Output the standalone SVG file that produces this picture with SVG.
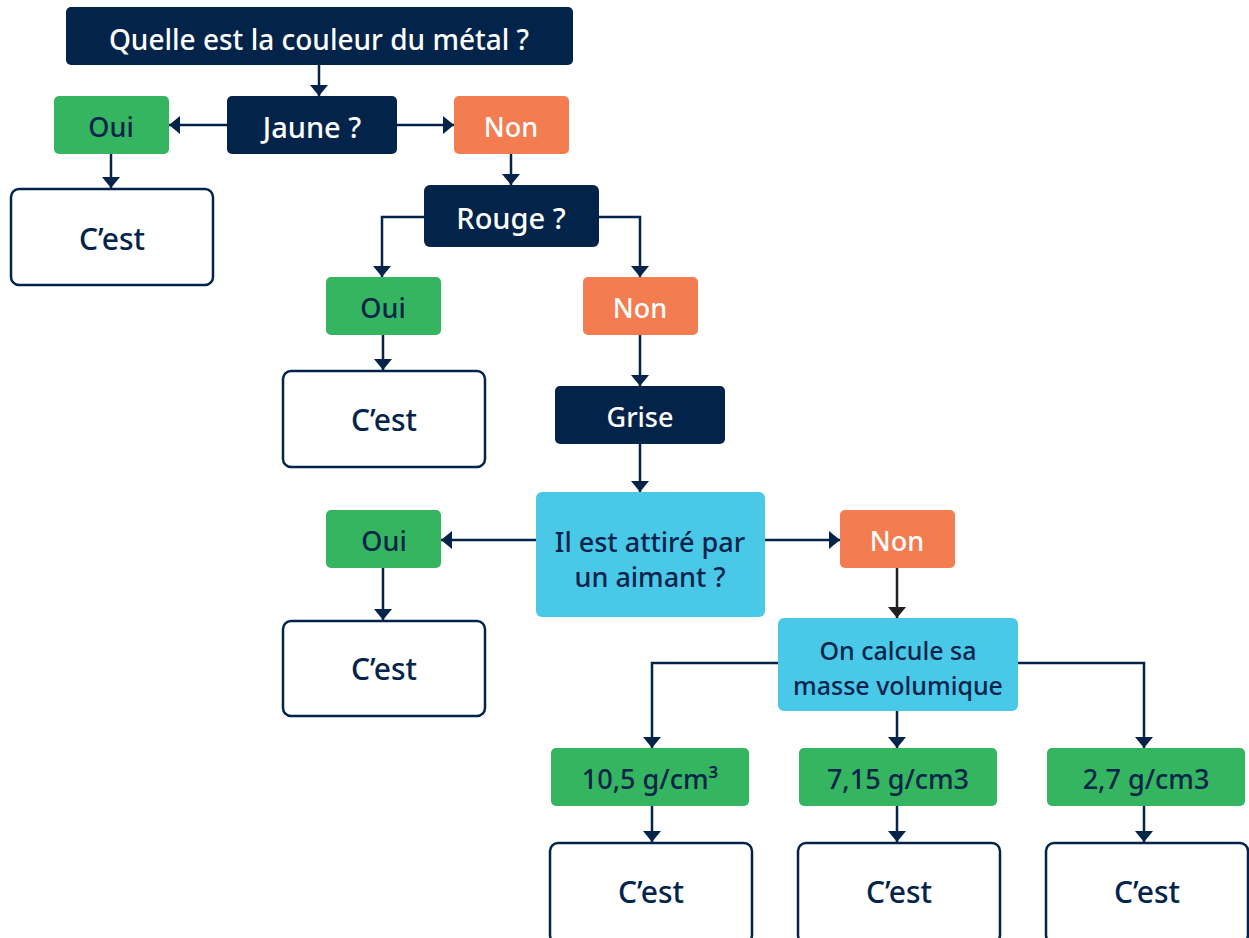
<svg xmlns="http://www.w3.org/2000/svg" width="1249" height="938" viewBox="0 0 1249 938">
<defs>
<style>
text{font-family:"Noto Sans","Open Sans","Liberation Sans",sans-serif;font-size:27px;font-weight:500;text-anchor:middle;dominant-baseline:central}
.cest{font-size:30px}
.sm{font-size:25px}
.dark{fill:#03244A}
.green{fill:#35B55F}
.orange{fill:#F37C50}
.blue{fill:#4AC8E8}
.res{fill:#fff;stroke:#03244A;stroke-width:2.5}
.tw{fill:#fff}
.td{fill:#03244A}
.c{fill:none;stroke:#03244A;stroke-width:2.5}
.cb{fill:none;stroke:#231F20;stroke-width:2.5}
</style>
<marker id="ah" markerUnits="userSpaceOnUse" markerWidth="12" markerHeight="18" refX="11" refY="9" orient="auto">
<path d="M0,0 L11,9 L0,18 Z" fill="#03244A"/>
</marker>
<marker id="ahb" markerUnits="userSpaceOnUse" markerWidth="12" markerHeight="18" refX="11" refY="9" orient="auto">
<path d="M0,0 L11,9 L0,18 Z" fill="#231F20"/>
</marker>
</defs>
<g id="connectors">
<path class="c" d="M319,65 V96" marker-end="url(#ah)"/>
<path class="c" d="M227,125 H169" marker-end="url(#ah)"/>
<path class="c" d="M397,125 H454" marker-end="url(#ah)"/>
<path class="c" d="M111,154 V188" marker-end="url(#ah)"/>
<path class="c" d="M511,154 V185" marker-end="url(#ah)"/>
<path class="c" d="M424,217 H382 V277" marker-end="url(#ah)"/>
<path class="c" d="M599,217 H640 V277" marker-end="url(#ah)"/>
<path class="c" d="M383,335 V370" marker-end="url(#ah)"/>
<path class="c" d="M640,335 V386" marker-end="url(#ah)"/>
<path class="c" d="M640,444 V492" marker-end="url(#ah)"/>
<path class="c" d="M536,540 H441" marker-end="url(#ah)"/>
<path class="c" d="M765,540 H840" marker-end="url(#ah)"/>
<path class="c" d="M383,568 V620" marker-end="url(#ah)"/>
<path class="cb" d="M897,568 V618" marker-end="url(#ahb)"/>
<path class="c" d="M778,663 H652 V748" marker-end="url(#ah)"/>
<path class="c" d="M897,711 V748" marker-end="url(#ah)"/>
<path class="c" d="M1018,663 H1144 V748" marker-end="url(#ah)"/>
<path class="c" d="M652,806 V842" marker-end="url(#ah)"/>
<path class="c" d="M897,806 V842" marker-end="url(#ah)"/>
<path class="c" d="M1144,806 V842" marker-end="url(#ah)"/>
</g>
<g id="q-couleur"><rect class="dark" x="66" y="7" width="507" height="58" rx="5"/><text class="tw" x="319" y="39" style="font-size:28px">Quelle est la couleur du métal ?</text></g>
<g id="q-jaune"><rect class="dark" x="227" y="96" width="170" height="58" rx="5"/><text class="tw" x="312" y="126" style="font-size:29px">Jaune ?</text></g>
<g id="oui1"><rect class="green" x="54" y="96" width="115" height="58" rx="5"/><text class="td" x="111" y="126">Oui</text></g>
<g id="non1"><rect class="orange" x="454" y="96" width="115" height="58" rx="5"/><text class="tw" x="511" y="126">Non</text></g>
<g id="res1"><rect class="res" x="11" y="189" width="202" height="96" rx="8"/><text class="td cest" x="112" y="238">C’est</text></g>
<g id="q-rouge"><rect class="dark" x="424" y="185" width="175" height="62" rx="6"/><text class="tw" x="511" y="217" style="font-size:29px">Rouge ?</text></g>
<g id="oui2"><rect class="green" x="326" y="277" width="115" height="58" rx="5"/><text class="td" x="383" y="307">Oui</text></g>
<g id="non2"><rect class="orange" x="583" y="277" width="115" height="58" rx="5"/><text class="tw" x="640" y="307">Non</text></g>
<g id="res2"><rect class="res" x="283" y="371" width="202" height="96" rx="8"/><text class="td cest" x="384" y="419">C’est</text></g>
<g id="grise"><rect class="dark" x="555" y="386" width="170" height="58" rx="5"/><text class="tw" x="640" y="416">Grise</text></g>
<g id="q-aimant"><rect class="blue" x="536" y="492" width="229" height="125" rx="6"/><text class="td" x="650" y="541">Il est attiré par</text><text class="td" x="650" y="576">un aimant ?</text></g>
<g id="oui3"><rect class="green" x="326" y="510" width="115" height="58" rx="5"/><text class="td" x="384" y="540">Oui</text></g>
<g id="non3"><rect class="orange" x="840" y="510" width="115" height="58" rx="5"/><text class="tw" x="897" y="540">Non</text></g>
<g id="res3"><rect class="res" x="283" y="621" width="202" height="95" rx="8"/><text class="td cest" x="384" y="668">C’est</text></g>
<g id="calc"><rect class="blue" x="778" y="618" width="240" height="93" rx="6"/><text class="td sm" x="898" y="650">On calcule sa</text><text class="td sm" x="898" y="685">masse volumique</text></g>
<g id="d1"><rect class="green" x="551" y="748" width="198" height="58" rx="5"/><text class="td" x="650" y="778">10,5 g/cm³</text></g>
<g id="d2"><rect class="green" x="799" y="748" width="198" height="58" rx="5"/><text class="td" x="898" y="778">7,15 g/cm3</text></g>
<g id="d3"><rect class="green" x="1047" y="748" width="198" height="58" rx="5"/><text class="td" x="1146" y="778">2,7 g/cm3</text></g>
<g id="res4"><rect class="res" x="550" y="843" width="202" height="100" rx="8"/><text class="td cest" x="651" y="891">C’est</text></g>
<g id="res5"><rect class="res" x="798" y="843" width="202" height="100" rx="8"/><text class="td cest" x="899" y="891">C’est</text></g>
<g id="res6"><rect class="res" x="1046" y="843" width="202" height="100" rx="8"/><text class="td cest" x="1147" y="891">C’est</text></g>
</svg>
